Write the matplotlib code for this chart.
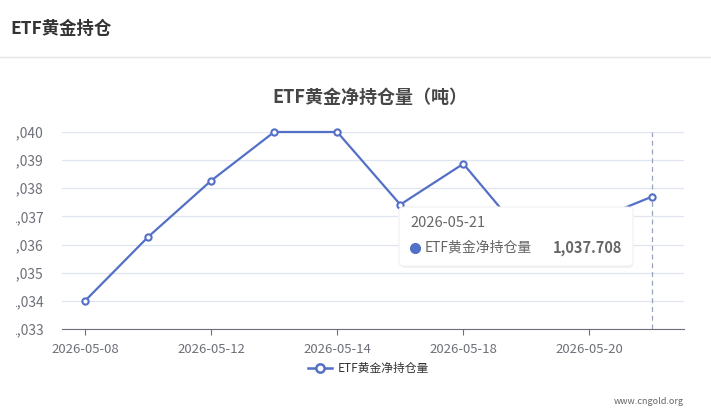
import matplotlib.pyplot as plt
from matplotlib.patches import FancyBboxPatch
from matplotlib.lines import Line2D
from matplotlib.transforms import Bbox

plt.rcParams['font.family'] = ['Noto Sans CJK SC', 'DejaVu Sans']

dates = ["2026-05-08", "2026-05-11", "2026-05-12", "2026-05-13", "2026-05-14",
         "2026-05-15", "2026-05-18", "2026-05-19", "2026-05-20", "2026-05-21"]
holdings = [1034.0, 1036.27, 1038.27, 1040.0, 1040.0,
            1037.42, 1038.87, 1036.2, 1036.8, 1037.708]
yticks = [1033, 1034, 1035, 1036, 1037, 1038, 1039, 1040]

W, H = 711, 413
fig = plt.figure(figsize=(W / 100, H / 100), dpi=100)
ax = fig.add_axes([62 / W, 1 - 329 / H, (684 - 62) / W, (329 - 132) / H])

blue = "#5470c6"
x = list(range(len(dates)))
ax.plot(x, holdings, color=blue, lw=1.6, marker="o", ms=4.5,
        mfc="white", mec=blue, mew=1.5, zorder=3, clip_on=False)
ax.axvline(x[-1], color="#9aa4c0", lw=0.9, ls=(0, (4, 3)), zorder=2)

ax.set_ylim(1033, 1040)
ax.set_xlim(-0.365, 9.5)
ax.set_yticks(yticks)
ax.set_yticklabels([f"{v:,}" for v in yticks])
ax.set_xticks(x[::2])
ax.set_xticklabels(dates[::2])
ax.tick_params(axis="both", colors="#6e7079", labelsize=9.5, length=0)
ax.tick_params(axis="y", pad=13, labelsize=10)
ax.tick_params(axis="x", pad=6, length=4, color="#6e7079")
ax.grid(axis="y", color="#e0e6f1", lw=0.9)
for s in ["top", "right", "left"]:
    ax.spines[s].set_visible(False)
ax.spines["bottom"].set_color("#6e7079")

# y labels are cut off on the left in the source page
clip = Bbox.from_extents(15.5, 0, W, H)
for lab in ax.get_yticklabels():
    lab.set_clip_box(clip)
    lab.set_clip_on(True)

# header
fig.text(10 / W, 1 - 29 / H, "ETF黄金持仓", fontsize=12.5, fontweight="bold",
         color="#333333", va="center")
fig.add_artist(Line2D([0, 1], [1 - 57 / H] * 2, color="#e5e5e5", lw=1))
fig.text(370 / W, 1 - 97 / H, "ETF黄金净持仓量（吨）", fontsize=13, fontweight="bold",
         color="#464646", ha="center", va="center")

# legend
ly = 1 - 368 / H
fig.add_artist(Line2D([308 / W, 332 / W], [ly, ly], color=blue, lw=1.8))
fig.add_artist(Line2D([320 / W], [ly], color=blue, marker="o", ms=6,
                      mfc="white", mew=1.8))
fig.text(338 / W, ly, "ETF黄金净持仓量", fontsize=8.5, color="#333333", va="center")

fig.text(684 / W, 1 - 401 / H, "www.cngold.org", fontsize=6.5, color="#666666",
         ha="right", va="center")

# tooltip
shadow = FancyBboxPatch((401 / W, 1 - 268 / H), 232 / W, 59 / H,
                        boxstyle="round,pad=0,rounding_size=0.008",
                        transform=fig.transFigure, fc="#000000", alpha=0.06,
                        ec="none", zorder=9)
box = FancyBboxPatch((399 / W, 1 - 266 / H), 234 / W, 59 / H,
                     boxstyle="round,pad=0,rounding_size=0.008",
                     transform=fig.transFigure, fc="white", ec="#f0f0f0",
                     lw=0.8, zorder=10)
fig.add_artist(shadow)
fig.add_artist(box)
fig.text(410 / W, 1 - 223 / H, dates[-1], fontsize=10.5, color="#666666",
         va="center", zorder=11)
fig.add_artist(Line2D([415 / W], [1 - 248 / H], marker="o", ms=7, color=blue,
                      zorder=11))
fig.text(425 / W, 1 - 248 / H, "ETF黄金净持仓量", fontsize=10, color="#666666",
         va="center", zorder=11)
fig.text(622 / W, 1 - 248 / H, f"{holdings[-1]:,.3f}", fontsize=10.5,
         fontweight="bold", color="#666666", ha="right", va="center", zorder=11)

fig.savefig("out.png", dpi=100)
